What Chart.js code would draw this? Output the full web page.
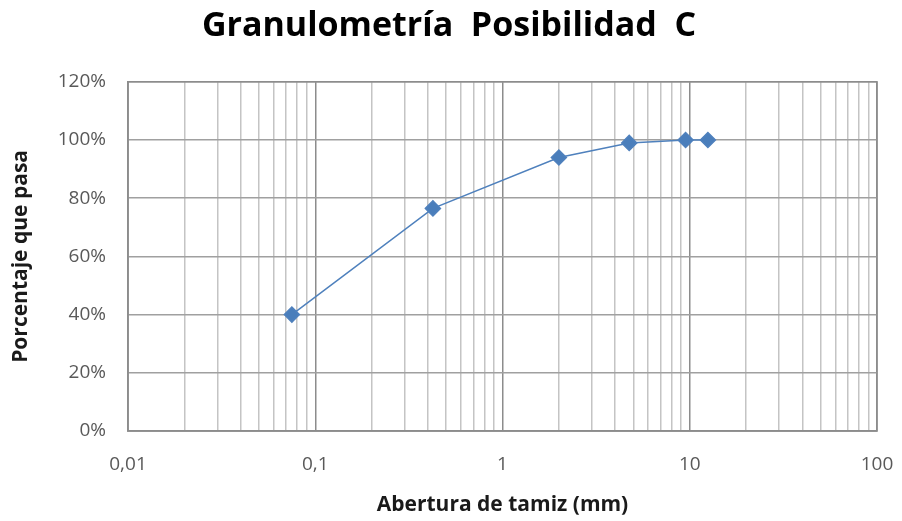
<!DOCTYPE html>
<html>
<head>
<meta charset="utf-8">
<script src="https://cdn.jsdelivr.net/npm/chart.js@4"></script>
<style>
  html, body { margin: 0; padding: 0; background: #fff; }
  #wrap { width: 902px; height: 521px; }
</style>
</head>
<body>
<div id="wrap"><canvas id="granChart" width="902" height="521"></canvas></div>
<script>
// datos
const aberturas = [0.075, 0.425, 2, 4.75, 9.5, 12.5];      // mm
const pasa = [40, 76.5, 94, 99, 100, 100];                   // %
const decadas = [0.01, 0.1, 1, 10, 100];
const etiquetasX = ['0,01', '0,1', '1', '10', '100'];
const yMin = 0, yMax = 120, yPaso = 20;

const FONT = '"Open Sans", "Liberation Sans", sans-serif';
Chart.defaults.font.family = FONT;
Chart.defaults.color = '#595959';

function esDecada(v) {
  return decadas.some(d => Math.abs(v / d - 1) < 1e-6);
}

// lineas verticales: 1..9 por cada década
const marcasX = [];
decadas.forEach((d, i) => {
  if (i === decadas.length - 1) { marcasX.push(d); return; }
  for (let k = 1; k <= 9; k++) marcasX.push(+(d * k).toPrecision(6));
});

const ctx = document.getElementById('granChart').getContext('2d');

new Chart(ctx, {
  type: 'scatter',
  data: {
    datasets: [{
      label: 'Posibilidad C',
      data: aberturas.map((x, i) => ({ x: x, y: pasa[i] })),
      showLine: true,
      borderColor: '#4f81bd',
      backgroundColor: '#4a7ebb',
      borderWidth: 1.5,
      pointStyle: 'rectRot',
      pointRadius: 7.5,
      pointHoverRadius: 7.5,
      tension: 0
    }]
  },
  options: {
    responsive: false,
    animation: false,
    layout: { padding: { left: 0, right: 4, top: 0, bottom: 0 } },
    plugins: {
      legend: { display: false },
      tooltip: { enabled: false },
      title: {
        display: true,
        text: 'Granulometría  Posibilidad  C',
        color: '#000',
        font: { size: 34, weight: 'bold', family: FONT },
        padding: { top: 6, bottom: 35 }
      }
    },
    scales: {
      x: {
        type: 'logarithmic',
        min: 0.01,
        max: 100,
        afterBuildTicks: function(scale) {
          scale.ticks = marcasX.map(v => ({ value: v }));
        },
        afterFit: function(scale) {
          scale.height = 90;
          scale.paddingLeft = 0;
          scale.paddingRight = 25;
        },
        ticks: {
          autoSkip: false,
          maxRotation: 0,
          padding: 22,
          font: { size: 19 },
          callback: function(v) {
            const i = decadas.findIndex(d => Math.abs(v / d - 1) < 1e-6);
            return i >= 0 ? etiquetasX[i] : '';
          }
        },
        grid: {
          drawTicks: false,
          lineWidth: 1.5,
          color: c => esDecada(c.tick.value) ? '#8c8c8c' : '#c4c4c4'
        },
        border: { display: true, color: '#8c8c8c', width: 1.5 },
        title: {
          display: true,
          text: 'Abertura de tamiz (mm)',
          color: '#1a1a1a',
          font: { size: 21, weight: 'bold' },
          padding: { top: 0, bottom: 3 }
        }
      },
      y: {
        min: yMin,
        max: yMax,
        afterFit: function(scale) { scale.width = 128; },
        ticks: {
          stepSize: yPaso,
          padding: 22,
          font: { size: 19 },
          callback: v => v + '%'
        },
        grid: {
          drawTicks: false,
          lineWidth: 1.5,
          color: '#a0a0a0'
        },
        border: { display: true, color: '#8c8c8c', width: 1.5 },
        title: {
          display: true,
          text: 'Porcentaje que pasa',
          color: '#1a1a1a',
          font: { size: 21, weight: 'bold' },
          padding: { top: 8, bottom: 0 }
        }
      }
    }
  },
  plugins: [{
    id: 'bordeDerecho',
    afterDraw(chart) {
      const a = chart.chartArea, c = chart.ctx;
      c.save();
      c.strokeStyle = '#8c8c8c';
      c.lineWidth = 1.5;
      c.strokeRect(a.left, a.top, a.right - a.left, a.bottom - a.top);
      c.restore();
    }
  }]
});
</script>
</body>
</html>
